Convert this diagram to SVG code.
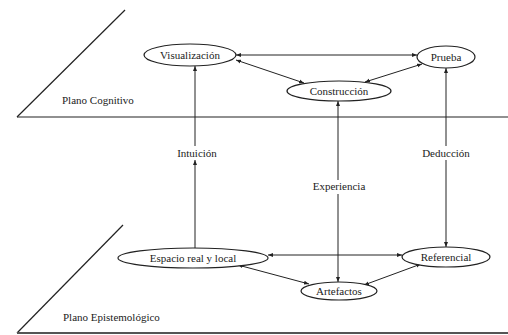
<svg xmlns="http://www.w3.org/2000/svg" width="508" height="335" viewBox="0 0 508 335">
<defs>
<style>
.plane{stroke:#222;stroke-width:1.2;fill:none}
.node ellipse{fill:#fff;stroke:#222;stroke-width:1.2}
.node text,.lbl{font-family:'Liberation Serif','Times New Roman',serif;font-size:11px;fill:#222;text-anchor:middle}
.plab{font-family:'Liberation Serif','Times New Roman',serif;font-size:11px;fill:#222}
.conn line{stroke:#222;stroke-width:1;marker-start:url(#a);marker-end:url(#a)}
</style>
<marker id="a" viewBox="0 0 10 10" refX="10" refY="5" markerWidth="5" markerHeight="5" orient="auto-start-reverse" markerUnits="userSpaceOnUse">
<path d="M0,1 L10,5 L0,9 z" fill="#222"/>
</marker>
</defs>
<rect width="508" height="335" fill="#fff"/>
<g id="planes">
<line class="plane" x1="17" y1="117" x2="125" y2="10"/>
<line class="plane" x1="17" y1="117" x2="508" y2="117"/>
<line class="plane" x1="17" y1="333" x2="123" y2="225"/>
<line class="plane" x1="17" y1="333" x2="508" y2="333" style="stroke:#555;stroke-width:2"/>
<text class="plab" x="62" y="104">Plano Cognitivo</text>
<text class="plab" x="63" y="321">Plano Epistemológico</text>
</g>
<g class="conn" id="connectors">
<line x1="236" y1="55" x2="417" y2="55"/>
<line x1="304" y1="83" x2="236" y2="60"/>
<line x1="422" y1="64" x2="365" y2="82"/>
<line x1="195" y1="248" x2="195" y2="160" style="marker-start:none"/>
<line x1="195" y1="146" x2="195" y2="66" style="marker-start:none"/>
<line x1="446" y1="68" x2="446" y2="146" style="marker-end:none"/>
<line x1="446" y1="160" x2="446" y2="247" style="marker-start:none"/>
<line x1="338" y1="101" x2="338" y2="180" style="marker-end:none"/>
<line x1="338" y1="194" x2="338" y2="282" style="marker-start:none"/>
<line x1="268" y1="255" x2="402" y2="255"/>
<line x1="238" y1="265" x2="309" y2="284"/>
<line x1="364" y1="285" x2="421" y2="264"/>
<text class="lbl" x="197" y="157">Intuición</text>
<text class="lbl" x="339" y="190">Experiencia</text>
<text class="lbl" x="446" y="157">Deducción</text>
</g>
<g class="node" id="visualizacion"><ellipse cx="190" cy="55" rx="46" ry="11"/><text x="190" y="59">Visualización</text></g>
<g class="node" id="prueba"><ellipse cx="446" cy="57" rx="29" ry="11"/><text x="446" y="61">Prueba</text></g>
<g class="node" id="construccion"><ellipse cx="339" cy="91" rx="52" ry="10"/><text x="339" y="95">Construcción</text></g>
<g class="node" id="espacio"><ellipse cx="193" cy="258" rx="75" ry="10"/><text x="193" y="262">Espacio real y local</text></g>
<g class="node" id="referencial"><ellipse cx="446" cy="257" rx="44" ry="10"/><text x="446" y="261">Referencial</text></g>
<g class="node" id="artefactos"><ellipse cx="339" cy="291" rx="38" ry="9"/><text x="339" y="295">Artefactos</text></g>
</svg>
